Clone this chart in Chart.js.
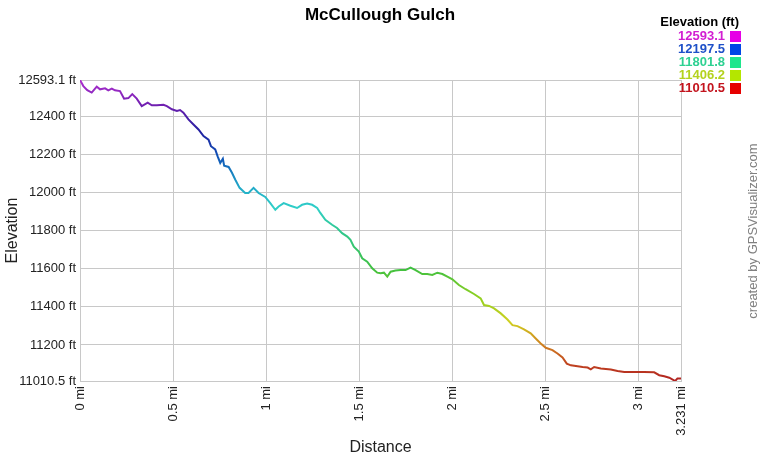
<!DOCTYPE html>
<html>
<head>
<meta charset="utf-8">
<script src="https://cdn.jsdelivr.net/npm/chart.js@4/dist/chart.umd.min.js"></script>
<style>
  html, body { margin: 0; padding: 0; background: #fff; }
  #wrap { width: 760px; height: 460px; }
</style>
</head>
<body>
<div id="wrap"><canvas id="elevChart" width="760" height="460"></canvas></div>
<script>
// distance along the track (mi) and elevation (ft)
const distances = [0, 0.018, 0.039, 0.063, 0.090, 0.108, 0.135, 0.152, 0.171, 0.188,
  0.215, 0.237, 0.260, 0.281, 0.305, 0.332, 0.364, 0.386, 0.413, 0.449,
  0.467, 0.494, 0.521, 0.538, 0.556, 0.583, 0.610, 0.637, 0.664, 0.691,
  0.704, 0.727, 0.740, 0.754, 0.768, 0.775, 0.799, 0.817, 0.835, 0.858,
  0.888, 0.906, 0.933, 0.960, 0.996, 1.023, 1.050, 1.068, 1.095, 1.131,
  1.167, 1.194, 1.221, 1.248, 1.275, 1.292, 1.319, 1.355, 1.382, 1.409,
  1.437, 1.454, 1.472, 1.499, 1.517, 1.544, 1.571, 1.598, 1.616, 1.634,
  1.652, 1.670, 1.696, 1.723, 1.750, 1.777, 1.804, 1.840, 1.867, 1.894,
  1.921, 1.948, 1.975, 2.002, 2.037, 2.073, 2.118, 2.154, 2.172, 2.199,
  2.226, 2.262, 2.298, 2.325, 2.352, 2.387, 2.423, 2.450, 2.477, 2.504,
  2.540, 2.567, 2.594, 2.617, 2.639, 2.675, 2.702, 2.729, 2.746, 2.764,
  2.800, 2.854, 2.890, 2.926, 2.979, 3.033, 3.087, 3.114, 3.141, 3.168,
  3.200, 3.212, 3.231];
const elevations = [12593.1, 12561, 12540, 12527, 12558, 12544, 12549, 12539, 12548, 12539,
  12535, 12495, 12498, 12519, 12495, 12456, 12474, 12460, 12460, 12463,
  12456, 12439, 12430, 12435, 12421, 12386, 12359, 12333, 12298, 12280,
  12245, 12228, 12192, 12157, 12179, 12143, 12136, 12105, 12069, 12026,
  11999, 11999, 12026, 11999, 11978, 11946, 11911, 11928, 11946, 11932,
  11920, 11937, 11943, 11937, 11920, 11894, 11858, 11832, 11815, 11788,
  11770, 11753, 11717, 11691, 11656, 11638, 11603, 11580, 11577, 11580,
  11559, 11585, 11591, 11594, 11594, 11607, 11594, 11573, 11573, 11568,
  11580, 11573, 11559, 11545, 11515, 11493, 11468, 11445, 11410, 11405,
  11392, 11366, 11334, 11304, 11299, 11282, 11261, 11234, 11208, 11185,
  11173, 11155, 11134, 11102, 11093, 11088, 11084, 11081, 11072, 11084,
  11076, 11071, 11063, 11058, 11058, 11058, 11056, 11041, 11035, 11028,
  11010.5, 11024, 11024];

const yTicks = [11010.5, 11200, 11400, 11600, 11800, 12000, 12200, 12400, 12593.1];
const xTicks = [0, 0.5, 1, 1.5, 2, 2.5, 3, 3.231];

const legendValues = [12593.1, 12197.5, 11801.8, 11406.2, 11010.5];
const legendTextColors = ['#d21ed2', '#1e50c8', '#2ed192', '#b4d21e', '#c3141e'];
const legendBoxColors = ['#e600e6', '#0046e6', '#1ee68c', '#b4e600', '#e60000'];

// line colour by elevation (low -> high)
const gradElev = [11010.5, 11100, 11200, 11320, 11450, 11600, 11800, 11920, 12030, 12180, 12320, 12460, 12593.1];
const gradColors = ['#b02020', '#c04420', '#d08020', '#d0d020', '#90d020', '#40c040', '#30c890', '#30d0c8', '#20a8c8', '#1058b8', '#2020a0', '#7020b0', '#b030d0'];

const FONT = 'Arial, "Liberation Sans", sans-serif';
const yMin = yTicks[0], yMax = yTicks[yTicks.length - 1];

function lineGradient(context) {
  const chart = context.chart;
  const { ctx, chartArea, scales } = chart;
  if (!chartArea) return gradColors[0];
  const y0 = scales.y.getPixelForValue(yMin);
  const y1 = scales.y.getPixelForValue(yMax);
  const g = ctx.createLinearGradient(0, y0, 0, y1);
  gradElev.forEach((e, i) => {
    g.addColorStop((e - yMin) / (yMax - yMin), gradColors[i]);
  });
  return g;
}

const extras = {
  id: 'extras',
  afterDraw(chart) {
    const c = chart.ctx;
    c.save();
    // title
    c.fillStyle = '#000';
    c.font = 'bold 17px ' + FONT;
    c.textAlign = 'center';
    c.textBaseline = 'middle';
    c.fillText('McCullough Gulch', 380, 15);
    // legend
    c.font = 'bold 13px ' + FONT;
    c.textAlign = 'right';
    c.fillText('Elevation (ft)', 739, 22);
    legendValues.forEach((v, i) => {
      const y = 36 + i * 13;
      c.fillStyle = legendTextColors[i];
      c.fillText(v.toFixed(1), 725, y);
      c.fillStyle = legendBoxColors[i];
      c.fillRect(730, y - 5, 11, 11);
    });
    // credit
    c.translate(753, 231);
    c.rotate(-Math.PI / 2);
    c.textAlign = 'center';
    c.fillStyle = '#808080';
    c.font = '13px ' + FONT;
    c.fillText('created by GPSVisualizer.com', 0, 0);
    c.restore();
  }
};

new Chart(document.getElementById('elevChart'), {
  type: 'line',
  data: {
    datasets: [{
      label: 'Elevation',
      data: distances.map((d, i) => ({ x: d, y: elevations[i] })),
      borderColor: lineGradient,
      borderWidth: 2,
      pointRadius: 0,
      tension: 0,
      fill: false
    }]
  },
  options: {
    responsive: false,
    animation: false,
    layout: { padding: { top: 80, right: 79, left: 0, bottom: 0 } },
    plugins: { legend: { display: false }, tooltip: { enabled: false } },
    scales: {
      x: {
        type: 'linear',
        min: 0,
        max: 3.231,
        afterBuildTicks: s => { s.ticks = xTicks.map(v => ({ value: v })); },
        afterFit: s => { s.height = 79; },
        grid: { color: '#c8c8c8', drawTicks: false },
        border: { color: '#c8c8c8' },
        ticks: {
          autoSkip: false,
          minRotation: 90,
          maxRotation: 90,
          padding: 5,
          color: '#222',
          font: { family: FONT, size: 13 },
          callback: v => v + ' mi'
        },
        title: { display: true, text: 'Distance', color: '#222', font: { family: FONT, size: 16 }, padding: { top: 0, bottom: 3 } }
      },
      y: {
        type: 'linear',
        min: yMin,
        max: yMax,
        afterBuildTicks: s => { s.ticks = yTicks.map(v => ({ value: v })); },
        afterFit: s => { s.width = 80; },
        grid: { color: '#c8c8c8', drawTicks: false },
        border: { color: '#c8c8c8' },
        ticks: {
          autoSkip: false,
          padding: 4,
          color: '#222',
          font: { family: FONT, size: 13 },
          callback: v => v + ' ft'
        },
        title: { display: true, text: 'Elevation', color: '#222', font: { family: FONT, size: 16 }, padding: { top: 3, bottom: 0 } }
      }
    }
  },
  plugins: [extras]
});
</script>
</body>
</html>
